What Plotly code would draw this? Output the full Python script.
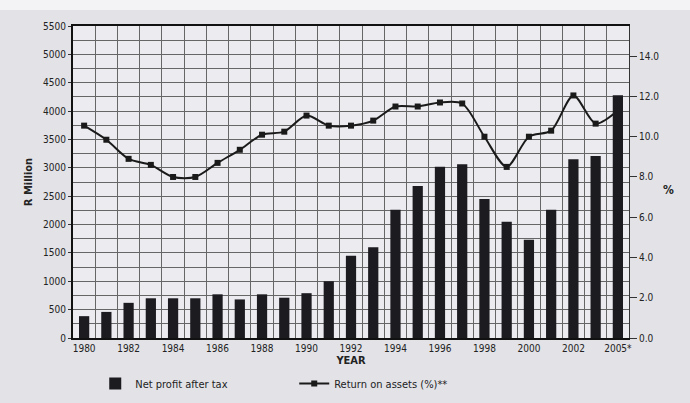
import plotly.graph_objects as go

years = ["1980", "1981", "1982", "1983", "1984", "1985", "1986", "1987", "1988", "1989",
         "1990", "1991", "1992", "1993", "1994", "1995", "1996", "1997", "1998", "1999",
         "2000", "2001", "2002", "2003", "2005*"]
net_profit = [385, 460, 620, 700, 700, 700, 770, 680, 770, 710,
              790, 1000, 1450, 1600, 2260, 2680, 3020, 3065, 2450, 2050,
              1730, 2260, 3150, 3210, 4280]
roa = [10.55, 9.85, 8.9, 8.6, 8.0, 8.0, 8.7, 9.35, 10.1, 10.25,
       11.05, 10.55, 10.55, 10.8, 11.5, 11.5, 11.7, 11.65, 10.0, 8.5,
       10.0, 10.3, 12.05, 10.65, 11.3]
left_ticks = list(range(0, 5501, 500))
right_ticks = [0, 2, 4, 6, 8, 10, 12, 14]

FONT = "Liberation Sans Narrow, DejaVu Sans Condensed, Arial Narrow, sans-serif"
INK = "#222222"
GRID = "#666666"

xpos = list(range(len(years)))

fig = go.Figure()
fig.add_trace(go.Scatter(
    x=xpos, y=roa, yaxis="y", name="Return on assets (%)**",
    mode="lines+markers", line=dict(color="#1a1a1a", width=2, shape="spline", smoothing=0.8),
    marker=dict(symbol="square", size=6, color="#1a1a1a"),
))
fig.add_trace(go.Bar(
    x=xpos, y=net_profit, yaxis="y2", name="Net profit after tax",
    marker=dict(color="#1c1c20", line=dict(width=0)),
))

fig.update_layout(
    width=690, height=403,
    margin=dict(l=73, r=61, t=26, b=65, autoexpand=False),
    paper_bgcolor="#e3e3e7",
    plot_bgcolor="#ececf0",
    font=dict(family=FONT, size=10, color=INK),
    bargap=0.54,
    showlegend=True,
    legend=dict(
        orientation="h", x=0.04, y=-0.099, xanchor="left", yanchor="top",
        bgcolor="rgba(0,0,0,0)", font=dict(size=11, family=FONT, color=INK),
        entrywidth=154, entrywidthmode="pixels", traceorder="reversed",
        itemwidth=30,
    ),
    xaxis=dict(
        range=[-0.5, len(years) - 0.5],
        tickvals=xpos[::2], ticktext=years[::2],
        showgrid=False, zeroline=False,
        showline=True, linecolor="#111", linewidth=2, mirror=True,
        ticks="", tickfont=dict(size=10, family=FONT, color=INK),
        minor=dict(tick0=0.5, dtick=1, showgrid=True, gridcolor=GRID, gridwidth=1),
        title=dict(text="<b>YEAR</b>", standoff=2, font=dict(size=11, family=FONT, color=INK)),
    ),
    yaxis=dict(
        side="right", range=[0, 15.5],
        tickvals=right_ticks, ticktext=[f"{v:.1f}" for v in right_ticks],
        showgrid=False, zeroline=False,
        showline=True, linecolor="#333", linewidth=1,
        ticks="outside", ticklen=7, tickcolor="#333", tickwidth=1,
        tickfont=dict(size=10, family=FONT, color=INK),
    ),
    yaxis2=dict(
        overlaying="y", side="left", range=[0, 5500],
        tickvals=left_ticks, ticktext=[str(v) for v in left_ticks],
        showgrid=True, gridcolor=GRID, gridwidth=1, zeroline=False,
        showline=True, linecolor="#111", linewidth=2,
        ticks="outside", ticklen=3, tickcolor="#333",
        minor=dict(dtick=250, showgrid=True, gridcolor=GRID, gridwidth=1),
        tickfont=dict(size=10, family=FONT, color=INK),
        title=dict(text="<b>R Million</b>", standoff=8, font=dict(size=11, family=FONT, color=INK)),
    ),
    shapes=[dict(
        type="rect", xref="paper", yref="paper", layer="below",
        x0=-73 / 556, x1=1 + 61 / 556, y0=1 + 16 / 312, y1=1 + 26 / 312,
        fillcolor="#f3f3f5", line=dict(width=0),
    )],
    annotations=[dict(
        text="<b>%</b>", xref="paper", yref="paper", x=1.0, y=0.475,
        xshift=47, showarrow=False, font=dict(size=12, family=FONT, color=INK),
    )],
)

fig.write_html("out.html")
